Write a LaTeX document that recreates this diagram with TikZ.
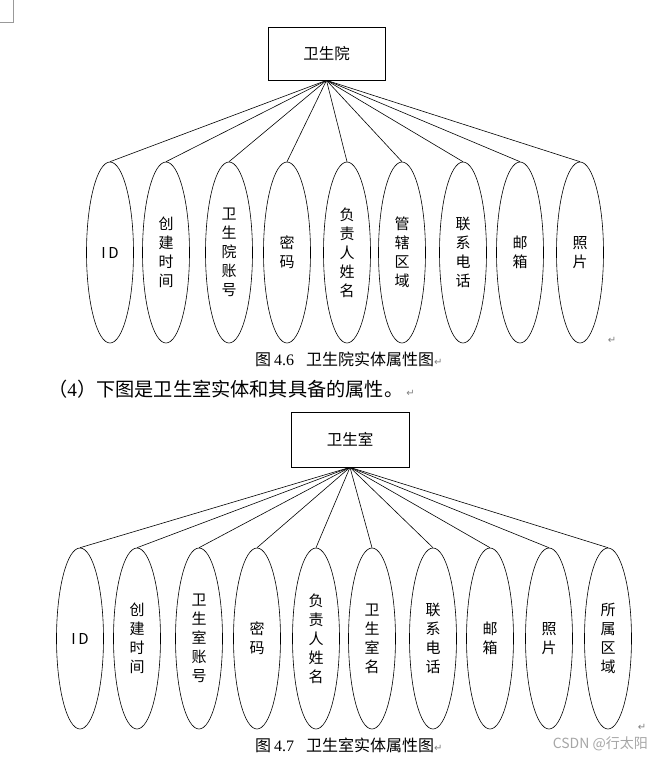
\documentclass[tikz,border=0pt]{standalone}
\usepackage{fontspec}
\setmainfont{Liberation Serif}
\newfontfamily\cjk{Noto Sans CJK SC}
\newfontfamily\symf{DejaVu Sans}
\usetikzlibrary{shapes.geometric}
\begin{document}
\begin{tikzpicture}[x=1pt,y=-1pt,
  ent/.style={draw, line width=0.7pt, minimum width=117pt, minimum height=53pt, inner sep=0pt, font=\cjk\fontsize{15.5}{18}\selectfont},
  attr/.style={draw, ellipse, line width=0.6pt, minimum width=47pt, minimum height=181pt, inner sep=0pt, align=center, font=\cjk\fontsize{15}{19}\selectfont},
  conn/.style={line width=0.6pt},
  figcap/.style={anchor=west, inner sep=0pt, font=\cjk\fontsize{16}{18}\selectfont},
  para/.style={anchor=west, inner sep=0pt, font=\cjk\fontsize{19.2}{22}\selectfont},
  ret/.style={text=gray, font=\symf\fontsize{10}{12}\selectfont, inner sep=0pt},
  wm/.style={text=black!35, inner sep=0pt, font=\cjk\fontsize{14}{16}\selectfont}]
\useasboundingbox (0,0) rectangle (662,761);
% page corner mark
\draw[black!40, line width=0.6pt] (13,0) coordinate (c1) -- (13,22) coordinate (c2) -- (0,22) coordinate (c3);

% ---------- Figure 4.6 ----------
\node[ent] (E1) at (326.5,53.5) {卫生院};
\foreach \nm/\x/\t in {a1/110/{I\,D}, a2/166/{创\\建\\时\\间}, a3/229/{卫\\生\\院\\账\\号}, a4/287/{密\\码}, a5/347/{负\\责\\人\\姓\\名}, a6/402/{管\\辖\\区\\域}, a7/463/{联\\系\\电\\话}, a8/520/{邮\\箱}, a9/580/{照\\片}}{
  \node[attr] (\nm) at (\x,252.5) {\t};
  \draw[conn] (E1.south) -- (\nm.north);
}
\node[ret] (r1) at (612,340) {↵};
\node[figcap] (cap1) at (255,359.5) {图\hspace{3pt}{\rmfamily 4.6}\hspace{12pt}卫生院实体属性图{\symf\color{gray}\fontsize{10}{12}\selectfont ↵}};

\node[para] (p1) at (48,389) {（{\rmfamily 4}）下图是卫生室实体和其具备的属性。{\symf\color{gray}\fontsize{10}{12}\selectfont\hspace{3pt}↵}};

% ---------- Figure 4.7 ----------
\node[ent, minimum width=118pt, minimum height=55pt] (E2) at (350,439.5) {卫生室};
\foreach \nm/\x/\t in {b1/80/{I\,D}, b2/137/{创\\建\\时\\间}, b3/199/{卫\\生\\室\\账\\号}, b4/257/{密\\码}, b5/316/{负\\责\\人\\姓\\名}, b6/372/{卫\\生\\室\\名}, b7/433/{联\\系\\电\\话}, b8/490/{邮\\箱}, b9/549/{照\\片}, b10/608/{所\\属\\区\\域}}{
  \node[attr] (\nm) at (\x,638.5) {\t};
  \draw[conn] (E2.south) -- (\nm.north);
}
\node[ret] (r2) at (642,727) {↵};
\node[figcap] (cap2) at (255,745.5) {图\hspace{3pt}{\rmfamily 4.7}\hspace{12pt}卫生室实体属性图{\symf\color{gray}\fontsize{10}{12}\selectfont ↵}};
\node[wm, anchor=east] (wm) at (648,744) {CSDN @行太阳};
\end{tikzpicture}
\end{document}
